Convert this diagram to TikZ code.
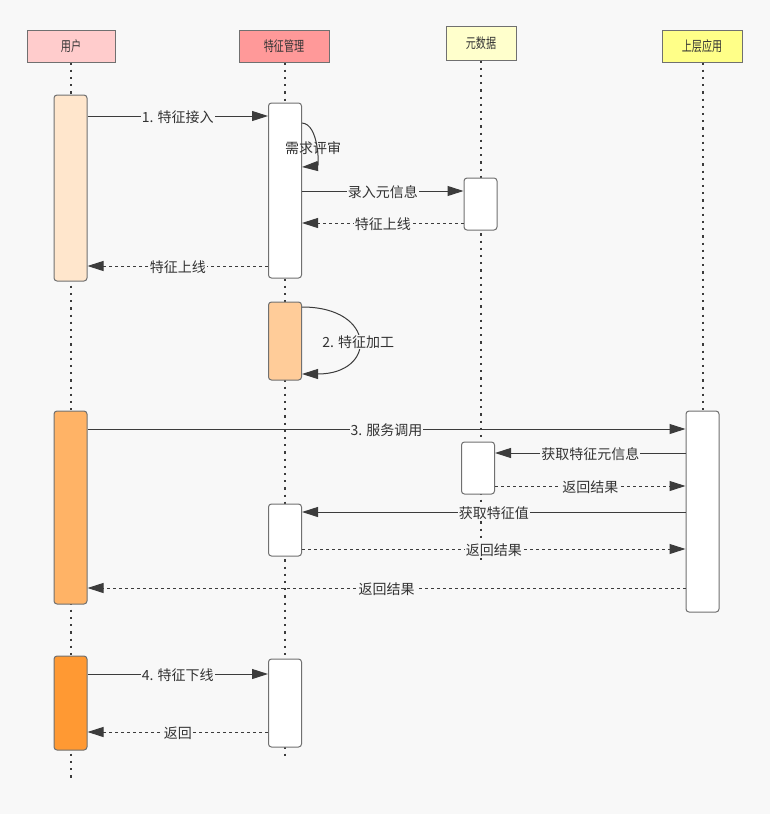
\documentclass[tikz,border=0pt]{standalone}
\usepackage{fontspec}
\setmainfont{Noto Sans CJK SC}
\newfontfamily\headfont[FakeStretch=0.72]{Noto Sans CJK SC}
\usetikzlibrary{arrows.meta,positioning}

\definecolor{bg}{HTML}{F8F8F8}
\definecolor{edge}{HTML}{707070}
\definecolor{ink}{HTML}{3C3C3C}
\definecolor{txt}{HTML}{333333}
\definecolor{userhd}{HTML}{FFCCCC}
\definecolor{feathd}{HTML}{FF9999}
\definecolor{metahd}{HTML}{FFFFCC}
\definecolor{apphd}{HTML}{FFFF88}
\definecolor{actA}{HTML}{FFE6CC}
\definecolor{actB}{HTML}{FFCC99}
\definecolor{actC}{HTML}{FFB366}
\definecolor{actD}{HTML}{FF9933}

\tikzset{
  actor/.style={draw=edge, line width=1pt, minimum height=32pt, text=txt,
    font=\headfont\fontsize{14}{16}\selectfont},
  act/.style={draw=edge, line width=1pt, rounded corners=3pt, fill=white,
    minimum width=33pt, inner sep=0pt},
  life/.style={draw=ink, line width=2.2pt, dash pattern=on 2.2pt off 5pt},
  msg/.style={draw=ink, line width=1pt, -{Triangle[length=16pt,width=10pt]}},
  ret/.style={msg, dash pattern=on 3pt off 3pt},
  lbl/.style={fill=bg, inner sep=1pt, text=txt, yshift=-1.5pt,
    font=\fontsize{14}{16}\selectfont},
}

\begin{document}
\begin{tikzpicture}[x=1pt,y=-1pt]
    \fill[bg] (0,0) rectangle (770,814);
    \useasboundingbox (0,0) rectangle (770,814);

    % participants
    \node[actor, fill=userhd, minimum width=88pt] (user) at (71,46) {用户};
    \node[actor, fill=feathd, minimum width=90pt] (feat) at (284,46) {特征管理};
    \node[actor, fill=metahd, minimum width=70pt, minimum height=34pt] (meta) at (481,43) {元数据};
    \node[actor, fill=apphd, minimum width=80pt] (app) at (702,46) {上层应用};

    \coordinate (userend) at (71,782);
    \coordinate (featend) at (285,760);
    \coordinate (metaend) at (481,560);
    \coordinate (append) at (703,612);
    \draw[life] (user) -- (userend);
    \draw[life] (feat.south -| featend) -- (featend);
    \draw[life] (meta) -- (metaend);
    \draw[life] (app.south -| append) -- (append);

    % activations
    \node[act, fill=actA, minimum height=186pt] (u1) at (70.5,188) {};
    \node[act, minimum height=175pt] (f1) at (285,190.5) {};
    \node[act, minimum height=52pt] (m1) at (480.5,204) {};
    \node[act, fill=actB, minimum height=78pt] (f2) at (285,341) {};
    \node[act, fill=actC, minimum height=193pt] (u2) at (70.5,507.5) {};
    \node[act, minimum height=201pt] (a1) at (702.5,511.5) {};
    \node[act, minimum height=52pt] (m2) at (478,468) {};
    \node[act, minimum height=52pt] (f3) at (285,530) {};
    \node[act, fill=actD, minimum height=94pt] (u3) at (70.5,703) {};
    \node[act, minimum height=88pt] (f4) at (285,703) {};

    % messages
    \draw[msg] (u1.east |- 0,116) -- node[lbl] {1. 特征接入} (f1.west |- 0,116);
    \draw[msg] (f1.east |- 0,123) .. controls (319,124) and (319,166) .. (f1.east |- 0,167);
    \node[lbl, fill=none] (review) at (313,147) {需求评审};
    \draw[msg] (f1.east |- 0,191) -- node[lbl] {录入元信息} (m1.west |- 0,191);
    \draw[ret] (m1.west |- 0,223) -- node[lbl] {特征上线} (f1.east |- 0,223);
    \draw[ret] (f1.west |- 0,266) -- node[lbl] {特征上线} (u1.east |- 0,266);
    \draw[msg] (f2.east |- 0,307) .. controls (377,307) and (377,374) .. node[lbl] {2. 特征加工} (f2.east |- 0,374);
    \draw[msg] (u2.east |- 0,429) -- node[lbl] {3. 服务调用} (a1.west |- 0,429);
    \draw[msg] (a1.west |- 0,453) -- node[lbl] {获取特征元信息} (m2.east |- 0,453);
    \draw[ret] (m2.east |- 0,486) -- node[lbl] {返回结果} (a1.west |- 0,486);
    \draw[msg] (a1.west |- 0,512) -- node[lbl] {获取特征值} (f3.east |- 0,512);
    \draw[ret] (f3.east |- 0,549) -- node[lbl] {返回结果} (a1.west |- 0,549);
    \draw[ret] (a1.west |- 0,588) -- node[lbl] {返回结果} (u2.east |- 0,588);
    \draw[msg] (u3.east |- 0,674) -- node[lbl] {4. 特征下线} (f4.west |- 0,674);
    \draw[ret] (f4.west |- 0,732) -- node[lbl] {返回} (u3.east |- 0,732);
\end{tikzpicture}
\end{document}
